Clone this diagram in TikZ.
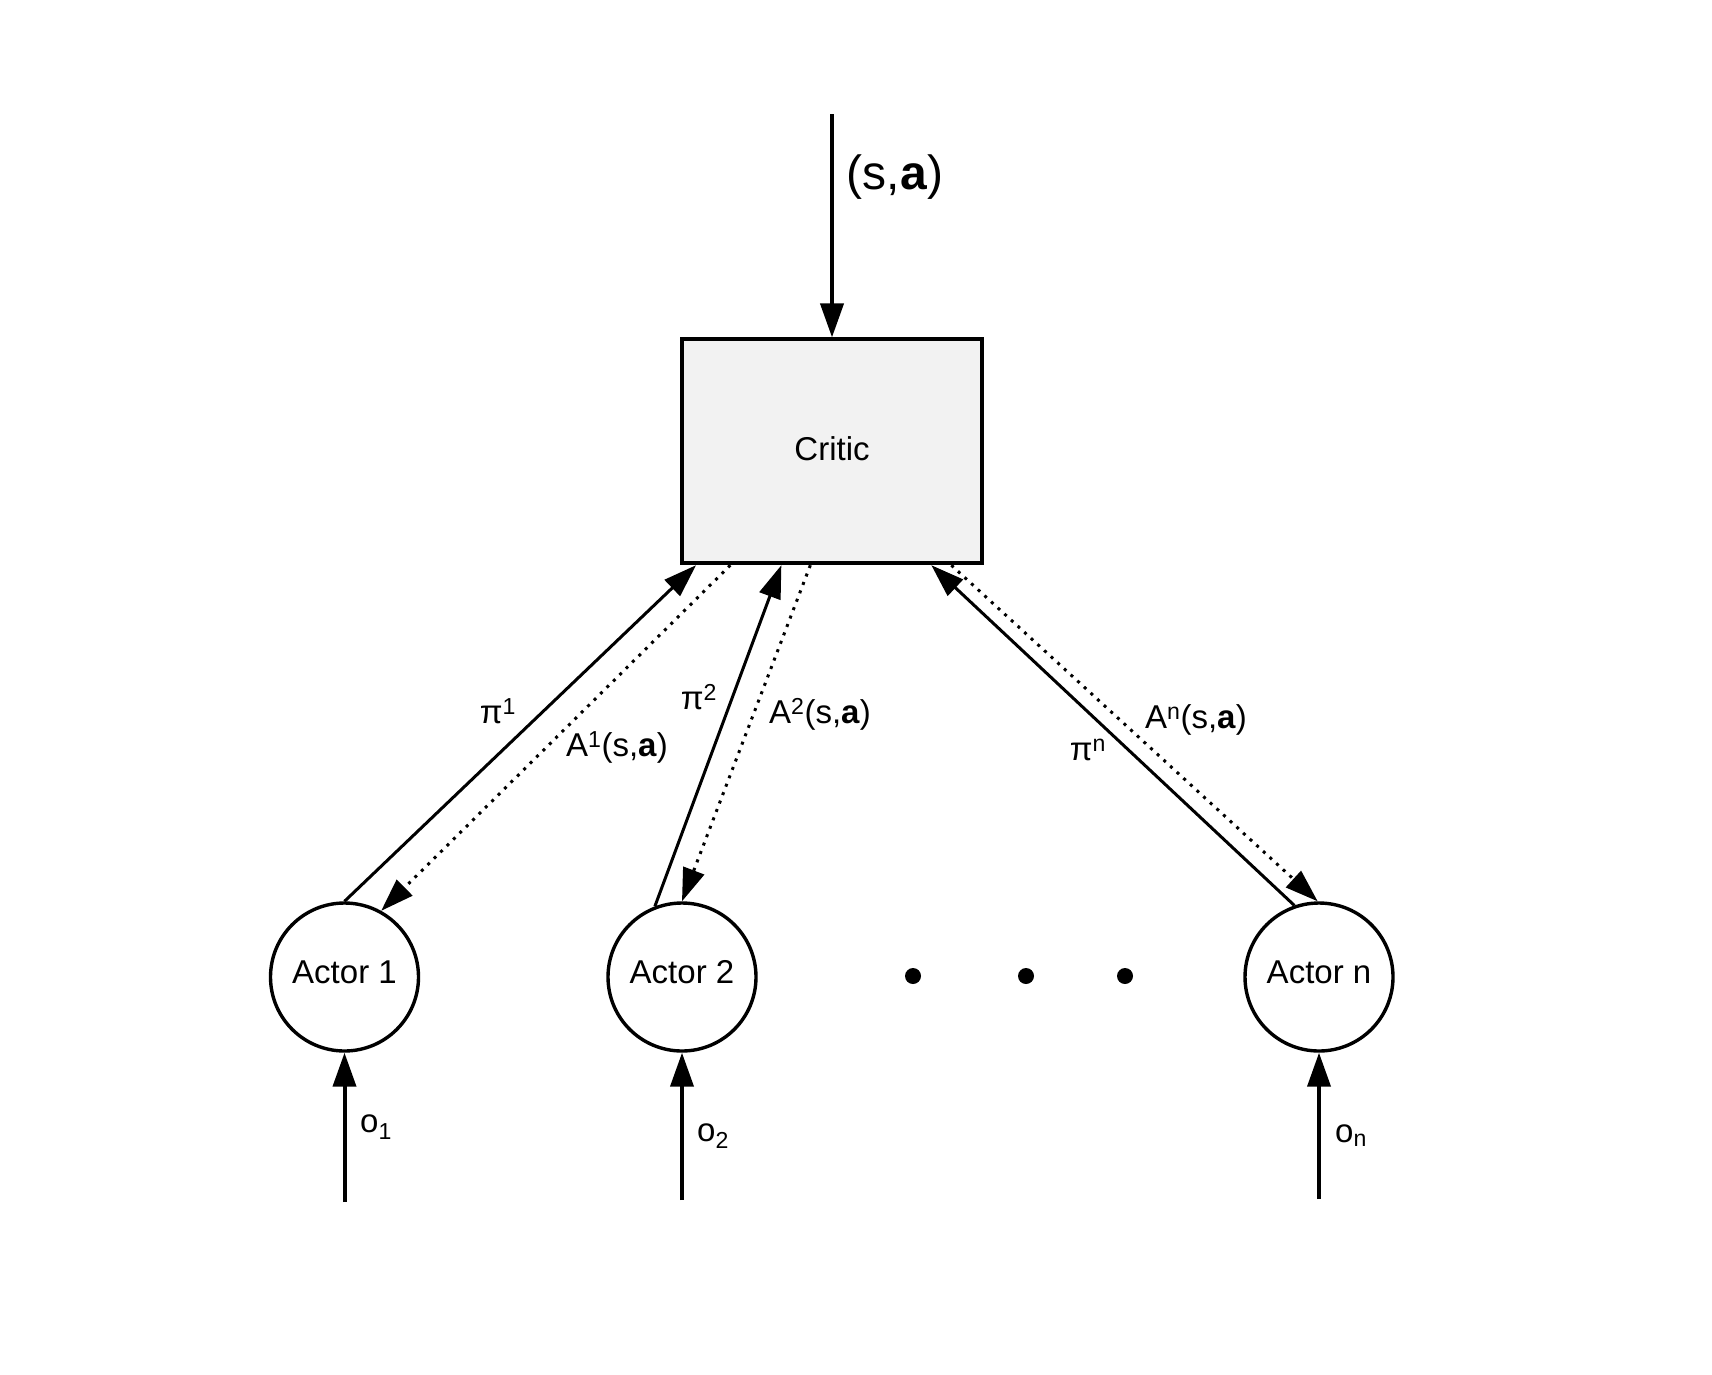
\documentclass[tikz,border=0pt]{standalone}
\usepackage{fontspec}
\setmainfont{Liberation Sans}
\usetikzlibrary{arrows.meta}
\definecolor{criticgray}{HTML}{F2F2F2}
\begin{document}
\begin{tikzpicture}[x=1pt,y=-1pt,
  txt/.style={font=\fontsize{33}{40}\selectfont, inner sep=0pt},
  bigtxt/.style={font=\fontsize{48}{58}\selectfont, inner sep=0pt},
  actor/.style={circle, draw, line width=3.4pt, minimum size=148pt, inner sep=0pt,
    font=\fontsize{33}{40}\selectfont, text depth=10pt},
  criticbox/.style={rectangle, draw, line width=3.8pt, fill=criticgray,
    minimum width=299.5pt, minimum height=224pt, inner sep=0pt,
    font=\fontsize{33}{40}\selectfont, text depth=6pt},
  dotnode/.style={circle, fill=black, minimum size=16pt, inner sep=0pt},
  flow/.style={line width=3pt, -{Triangle[length=33pt,width=22pt]}},
  feed/.style={line width=3pt, dash pattern=on 3pt off 6pt, -{Triangle[length=33pt,width=22pt]}},
  inarrow/.style={line width=4pt, -{Triangle[length=34pt,width=23pt]}}
]
\useasboundingbox (0,0) rectangle (1712,1374);

% nodes
\node[criticbox] (critic) at (832,451.3) {Critic};
\node[actor] (a1) at (344.5,977) {Actor 1};
\node[actor] (a2) at (682,977) {Actor 2};
\node[actor] (an) at (1319,977) {Actor n};
\node[dotnode] (d1) at (913,976) {};
\node[dotnode] (d2) at (1026,976) {};
\node[dotnode] (d3) at (1125,976) {};

% input coordinates
\coordinate (top) at (832,114);
\coordinate (b1) at (344.5,1202);
\coordinate (b2) at (682,1200);
\coordinate (bn) at (1319,1199);

% top input
\draw[inarrow] (top) -- (critic.north);
\node[bigtxt] (sa) at (895,177) {(s,\textbf{a})};

% actor-critic connectors
\draw[flow] (a1.north) -- ([xshift=15.7pt]critic.south west);
\draw[feed] ([xshift=50pt]critic.south west) -- (a1.61.5);
\draw[flow] (a2.111) -- ([xshift=101pt]critic.south west);
\draw[feed] ([xshift=130pt]critic.south west) -- (a2.north);
\draw[flow] (an.109.4) -- ([xshift=251pt]critic.south west);
\draw[feed] ([xshift=271pt]critic.south west) -- (an.91.5);

% connector labels
\node[txt] (l1) at (498,711) {π\textsuperscript{1}};
\node[txt] (l2) at (617,747) {A\textsuperscript{1}(s,\textbf{a})};
\node[txt] (l3) at (699,697) {π\textsuperscript{2}};
\node[txt] (l4) at (820,714) {A\textsuperscript{2}(s,\textbf{a})};
\node[txt] (l5) at (1088,750) {π\textsuperscript{n}};
\node[txt] (l6) at (1196,720) {A\textsuperscript{n}(s,\textbf{a})};

% observation inputs
\draw[inarrow] (b1) -- (a1.south);
\draw[inarrow] (b2) -- (a2.south);
\draw[inarrow] (bn) -- (an.south);
\node[txt] (o1) at (376,1127) {o\textsubscript{1}};
\node[txt] (o2) at (713,1136) {o\textsubscript{2}};
\node[txt] (on) at (1351,1136) {o\textsubscript{n}};
\end{tikzpicture}
\end{document}
